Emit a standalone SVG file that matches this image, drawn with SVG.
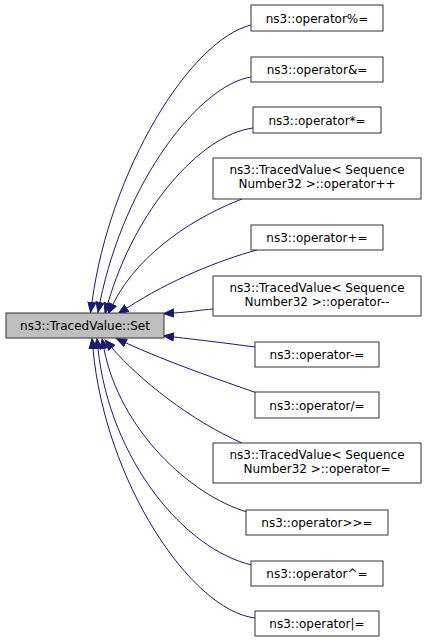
<svg xmlns="http://www.w3.org/2000/svg" width="427" height="643" viewBox="0 0 427 643">
<style>
.n rect{fill:#fff;stroke:#333;stroke-width:1}
.n.m rect{fill:#bfbfbf}
text{font-family:"DejaVu Sans","Liberation Sans",sans-serif;font-size:12px;text-anchor:middle;fill:#000}
.e path{fill:none;stroke:#191970;stroke-width:1;marker-end:url(#ah)}
</style>
<defs>
<marker id="ah" markerUnits="userSpaceOnUse" markerWidth="12" markerHeight="10" refX="0" refY="4.5" orient="auto">
<path d="M0.5,0.5 L10.5,4.5 L0.5,8.5 z" fill="#191970" stroke="#191970" stroke-width="1"/>
</marker>
</defs>
<rect width="427" height="643" fill="#fff"/>
<g id="edges" class="e">
<path d="M251,25 C190,40 110,170 92,302"/>
<path d="M251,77 C200,85 125,180 100,302"/>
<path d="M253,128 C200,135 135,210 108,303"/>
<path d="M242,199 C200,215 140,250 113,304"/>
<path d="M257,250 C220,260 170,280 127,308"/>
<path d="M213,309 C200,310 190,312 174,313"/>
<path d="M255,347 C225,343 200,340 174,337"/>
<path d="M257,393 C220,380 170,363 126,343"/>
<path d="M242,443 C190,420 140,380 112,348"/>
<path d="M247,512 C190,495 120,430 104,349"/>
<path d="M252,565 C185,550 110,460 98,349"/>
<path d="M255,618 C190,610 105,480 93,349"/>
</g>
<g id="main" class="n m"><rect x="6" y="313" width="158" height="25"/><text x="85" y="329.5">ns3::TracedValue::Set</text></g>
<g id="n1" class="n"><rect x="251" y="5" width="132" height="26"/><text x="317" y="22.5">ns3::operator%=</text></g>
<g id="n2" class="n"><rect x="251" y="57" width="132" height="25"/><text x="317" y="74">ns3::operator&amp;=</text></g>
<g id="n3" class="n"><rect x="253" y="107" width="128" height="26"/><text x="317" y="124.5">ns3::operator*=</text></g>
<g id="n4" class="n"><rect x="213" y="158" width="208" height="41"/><text x="317" y="174">ns3::TracedValue&lt; Sequence</text><text x="317" y="187.5">Number32 &gt;::operator++</text></g>
<g id="n5" class="n"><rect x="251" y="225" width="132" height="25"/><text x="317" y="242">ns3::operator+=</text></g>
<g id="n6" class="n"><rect x="213" y="276" width="208" height="40"/><text x="317" y="292">ns3::TracedValue&lt; Sequence</text><text x="317" y="305.5">Number32 &gt;::operator--</text></g>
<g id="n7" class="n"><rect x="255" y="342" width="124" height="25"/><text x="317" y="359">ns3::operator-=</text></g>
<g id="n8" class="n"><rect x="255" y="392" width="124" height="26"/><text x="317" y="409.5">ns3::operator/=</text></g>
<g id="n9" class="n"><rect x="213" y="443" width="208" height="40"/><text x="317" y="459">ns3::TracedValue&lt; Sequence</text><text x="317" y="472.5">Number32 &gt;::operator=</text></g>
<g id="n10" class="n"><rect x="246" y="510" width="142" height="25"/><text x="317" y="527">ns3::operator&gt;&gt;=</text></g>
<g id="n11" class="n"><rect x="251" y="561" width="132" height="25"/><text x="317" y="578">ns3::operator^=</text></g>
<g id="n12" class="n"><rect x="255" y="611" width="124" height="25"/><text x="317" y="628">ns3::operator|=</text></g>
</svg>
